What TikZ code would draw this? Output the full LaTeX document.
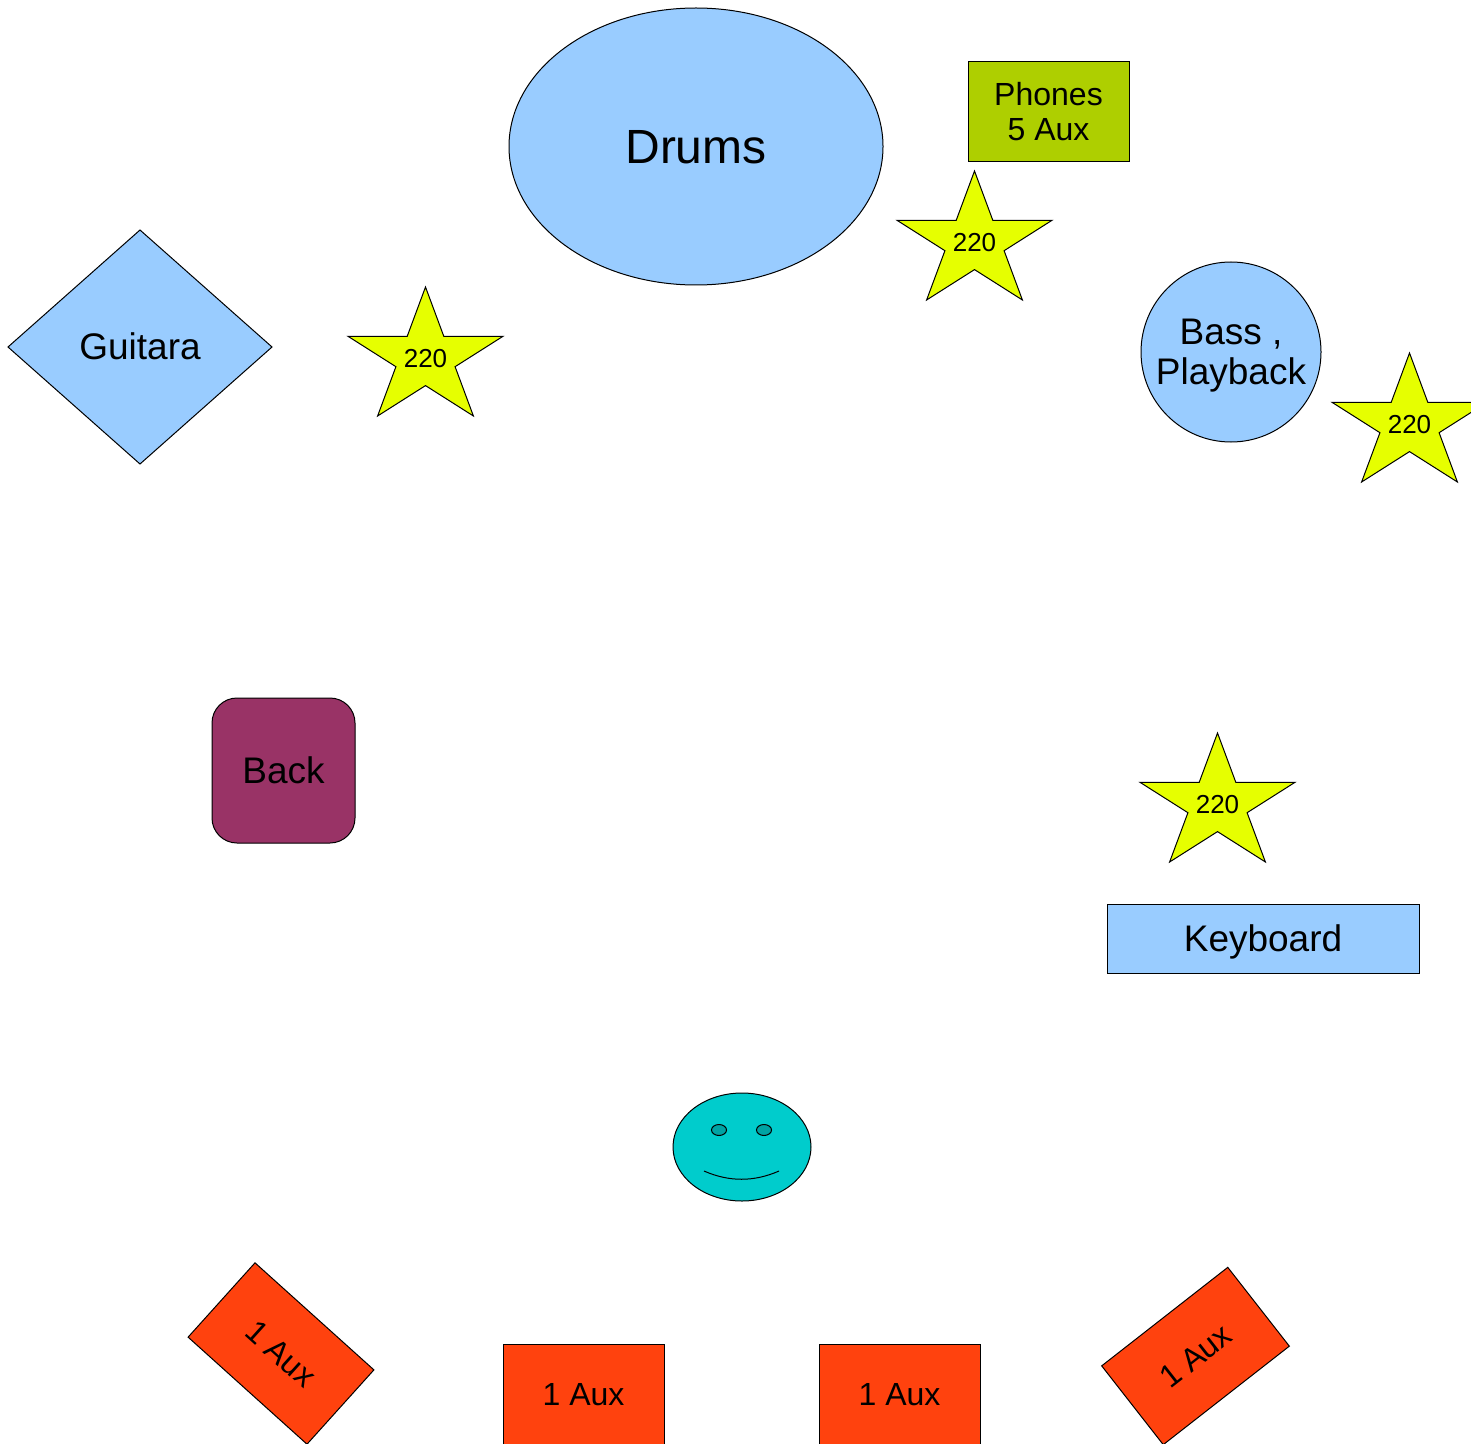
\documentclass[tikz,border=0pt]{standalone}
\usepackage{fontspec}
\setmainfont{Liberation Sans}
\usetikzlibrary{shapes.geometric}
\definecolor{skyblue}{HTML}{99CCFF}
\definecolor{staryellow}{HTML}{E6FF00}
\definecolor{phonegreen}{HTML}{AECF00}
\definecolor{auxorange}{HTML}{FF420E}
\definecolor{backpurple}{HTML}{993366}
\definecolor{faceteal}{HTML}{00CCCC}
\definecolor{eyeteal}{HTML}{00A3A3}
\newcommand\ls{\rule[-0.212em]{0pt}{1.117em}}
\newcommand\tstrut{\rule{0pt}{0.905em}}
\newcommand\bstrut{\rule[-0.212em]{0pt}{0pt}}
\newcommand\fbig{\fontsize{24pt}{27pt}\selectfont}
\newcommand\fmid{\fontsize{18.5pt}{20pt}\selectfont}
\newcommand\fsml{\fontsize{16pt}{17.85pt}\selectfont}
\newcommand\ftiny{\fontsize{13pt}{14pt}\selectfont}
\tikzset{
  shp/.style={draw=black, line width=0.5pt, inner sep=0pt, outer sep=0pt},
  bluebox/.style={shp, fill=skyblue},
  auxbox/.style={shp, fill=auxorange, rectangle, minimum width=80pt, minimum height=50pt, font=\fsml},
  starfill/.style={draw=black, line width=0.5pt, fill=staryellow, line join=miter},
  startext/.style={inner sep=0pt, font=\ftiny},
}
\newcommand\starnode[3]{%
  \begin{scope}[shift={(#2,#3)}]
    \draw[starfill] (0,0) -- (18.3,49.3) -- (77.5,49.3) -- (29.6,79.7) -- (47.9,129)
      -- (0,98.6) -- (-47.9,129) -- (-29.6,79.7) -- (-77.5,49.3) -- (-18.3,49.3) -- cycle;
    \node[startext] (#1) at (0,71) {\ls 220};
  \end{scope}}
\begin{document}
\begin{tikzpicture}[x=0.5pt,y=-0.5pt]
  \path[use as bounding box, fill=white] (0,0) rectangle (1471,1444);
  \clip (0,0) rectangle (1471,1444);

  % Drums
  \node[bluebox, ellipse, minimum width=187pt, minimum height=138.5pt, font=\fbig] (drums) at (696,146.5) {\ls Drums};
  % Phones
  \node[shp, fill=phonegreen, rectangle, minimum width=80.5pt, minimum height=50pt, font=\fsml, align=center] (phones) at (1048.5,112) {\tstrut Phones\\5 Aux\bstrut};
  % Guitara
  \node[bluebox, diamond, minimum width=132pt, minimum height=117pt, font=\fmid] (guitara) at (140,347) {\ls Guitara};
  % Bass
  \node[bluebox, circle, minimum size=90pt, font=\fmid, align=center] (bass) at (1231,352) {\tstrut Bass ,\\Playback\bstrut};
  % Back
  \node[shp, fill=backpurple, rectangle, rounded corners=12.5pt, minimum width=71.5pt, minimum height=72.5pt, font=\fmid] (back) at (283.5,770.5) {\ls Back};
  % Keyboard
  \node[bluebox, rectangle, minimum width=156pt, minimum height=34.5pt, font=\fmid] (keyboard) at (1263,938.5) {\ls Keyboard};

  % Stars
  \starnode{starL}{425.5}{287}
  \starnode{starT}{974.5}{171}
  \starnode{starR}{1409.5}{353}
  \starnode{starK}{1217.5}{733}

  % Smiley
  \node[shp, ellipse, fill=faceteal, minimum width=69pt, minimum height=54pt] (face) at (742,1147) {};
  \node[shp, ellipse, fill=eyeteal, minimum width=7.5pt, minimum height=5.5pt] (eyeL) at (719,1130) {};
  \node[shp, ellipse, fill=eyeteal, minimum width=7.5pt, minimum height=5.5pt] (eyeR) at (764,1130) {};
  \draw[line width=0.5pt] (704,1171) .. controls (729,1182) and (754,1182) .. (779,1171);

  % Aux monitors
  \node[auxbox, rotate=-42] (aux1) at (281,1353.5) {\ls 1 Aux};
  \node[auxbox, minimum width=80.5pt] (aux2) at (583.5,1394) {\ls 1 Aux};
  \node[auxbox, minimum width=80.5pt] (aux3) at (899.5,1394) {\ls 1 Aux};
  \node[auxbox, rotate=38] (aux4) at (1195.5,1356) {\ls 1 Aux};
\end{tikzpicture}
\end{document}
